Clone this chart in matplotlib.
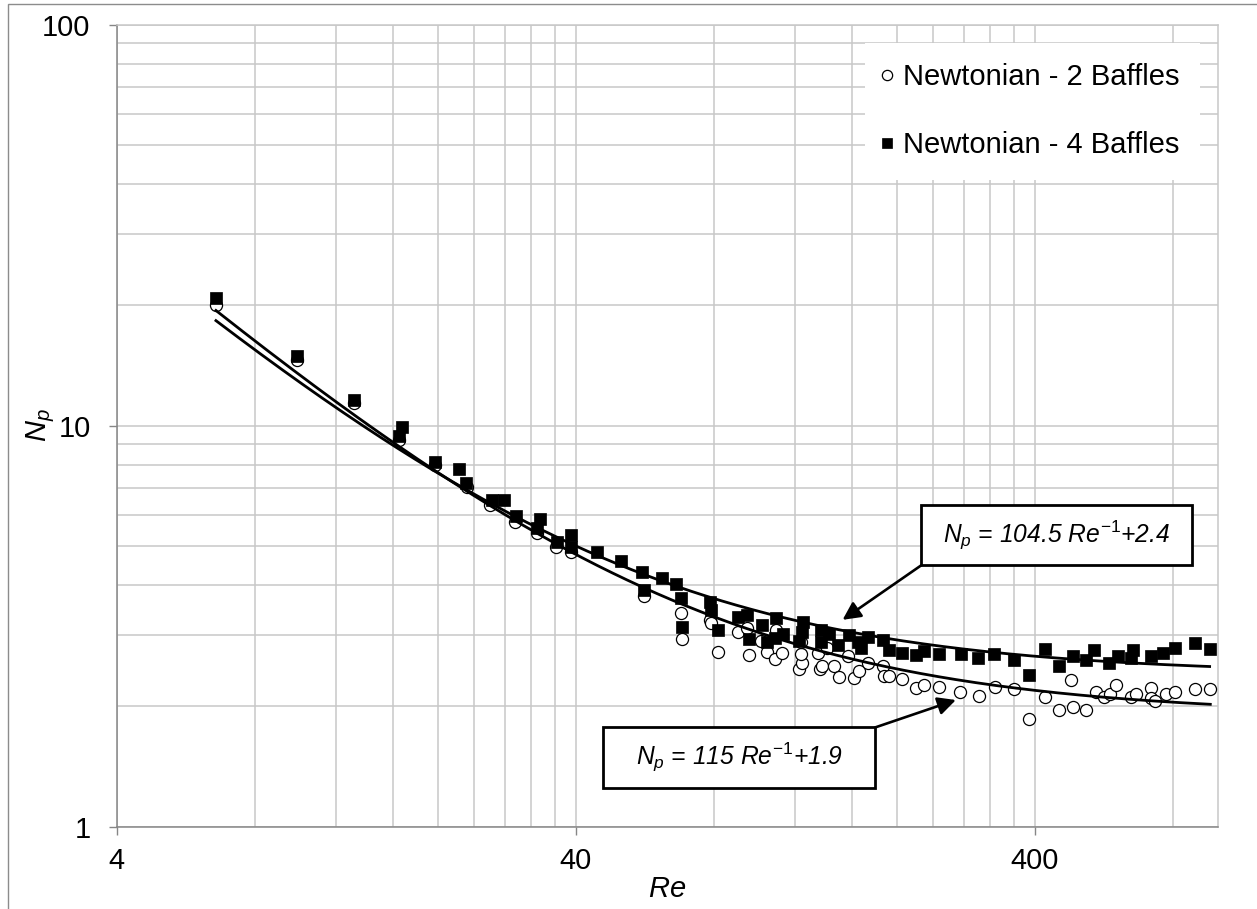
import numpy as np
import matplotlib
matplotlib.use('Agg')
import matplotlib.pyplot as plt
from matplotlib.patches import Rectangle
from matplotlib.ticker import FixedLocator, FixedFormatter, NullFormatter

plt.rcParams['font.family'] = ['Liberation Sans', 'DejaVu Sans']
plt.rcParams['mathtext.fontset'] = 'custom'
plt.rcParams['mathtext.it'] = 'Liberation Sans:italic'
plt.rcParams['mathtext.rm'] = 'Liberation Sans'

# ---------------- data ----------------
re_2baffles = [6.58, 9.88, 13.15, 16.48, 19.78, 23.19, 26.06, 29.55, 32.84, 36.13,
               39.08, 56.28, 67.67, 68.0, 78.27, 78.65, 81.6, 90.2, 94.3, 95.3,
               101.1, 104.2, 108.9, 108.5, 112.7, 122.6, 124.6, 124.0, 123.6, 134.4,
               136.3, 137.4, 140.8, 145.7, 149.8, 156.3, 161.6, 165.6, 172.8, 186.3,
               187.2, 192.6, 205.0, 220.2, 229.6, 247.5, 275.2, 302.6, 327.1, 360.7,
               388.9, 421.5, 452.1, 483.6, 479.9, 516.9, 543.8, 566.7, 584.0, 601.6,
               648.7, 662.2, 716.5, 716.5, 729.8, 771.0, 807.9, 890.5, 963.6]
np_2baffles = [20.0, 14.58, 11.37, 9.21, 7.98, 7.02, 6.34, 5.76, 5.41, 4.99,
               4.85, 3.76, 3.41, 2.94, 3.28, 3.23, 2.73, 3.06, 3.13, 2.68,
               2.91, 2.73, 3.09, 2.62, 2.71, 2.48, 2.56, 2.70, 2.89, 2.71,
               2.48, 2.52, 2.79, 2.52, 2.36, 2.67, 2.35, 2.44, 2.56, 2.52,
               2.37, 2.37, 2.34, 2.22, 2.25, 2.23, 2.17, 2.12, 2.23, 2.20,
               1.86, 2.11, 1.95, 1.99, 2.32, 1.95, 2.17, 2.11, 2.14, 2.26,
               2.11, 2.14, 2.22, 2.09, 2.06, 2.14, 2.17, 2.20, 2.20]

re_4baffles = [6.58, 9.88, 13.15, 16.73, 16.48, 19.78, 22.27, 23.07, 26.29, 27.87,
               29.66, 33.39, 32.84, 36.33, 39.08, 39.08, 44.54, 50.23, 55.83, 61.51,
               66.22, 56.28, 67.67, 78.27, 78.65, 68.0, 81.6, 90.2, 94.6, 101.6,
               95.3, 109.4, 104.2, 108.6, 113.3, 125.2, 124.6, 122.6, 136.7, 142.3,
               136.7, 149.1, 157.5, 164.8, 167.1, 172.8, 186.3, 192.6, 205.0, 220.2,
               229.6, 247.5, 276.1, 300.2, 326.3, 360.7, 388.9, 421.5, 452.1, 483.6,
               516.9, 539.0, 581.1, 606.2, 653.8, 648.7, 716.5, 760.0, 805.4, 890.5,
               960.3]
np_4baffles = [20.8, 14.95, 11.59, 9.94, 9.44, 8.13, 7.80, 7.21, 6.53, 6.53,
               5.94, 5.85, 5.55, 5.14, 5.34, 4.99, 4.85, 4.61, 4.32, 4.16,
               4.02, 3.89, 3.71, 3.63, 3.47, 3.14, 3.09, 3.33, 3.37, 3.18,
               2.94, 3.31, 2.88, 2.95, 3.03, 3.24, 3.06, 2.91, 3.09, 3.03,
               2.89, 2.84, 3.01, 2.89, 2.79, 2.98, 2.92, 2.76, 2.71, 2.68,
               2.75, 2.69, 2.69, 2.64, 2.70, 2.60, 2.39, 2.77, 2.52, 2.66,
               2.60, 2.76, 2.56, 2.66, 2.76, 2.63, 2.67, 2.71, 2.79, 2.87,
               2.77]

# fitted correlations Np = a / Re + b
fit_2baffles = (115.0, 1.9)
fit_4baffles = (104.5, 2.4)

labels = ['Newtonian - 2 Baffles', 'Newtonian - 4 Baffles']
eq_labels = [r'$N_p$ = 104.5 $Re^{\mathit{-1}}$+2.4', r'$N_p$ = 115 $Re^{\mathit{-1}}$+1.9']

x_major = [4, 40, 400]
x_major_labels = ['4', '40', '400']
x_minor = [8, 12, 16, 20, 24, 28, 32, 36, 80, 120, 160, 200, 240, 280, 320, 360, 800]
y_major = [1, 10, 100]
y_major_labels = ['1', '10', '100']
y_minor = [2, 3, 4, 5, 6, 7, 8, 9, 20, 30, 40, 50, 60, 70, 80, 90]

# ---------------- figure ----------------
W, H = 1257, 909
fig = plt.figure(figsize=(W / 100, H / 100), dpi=100)

def fx(px):
    return px / W

def fy(py):
    return 1 - py / H

ax_l, ax_r, ax_t, ax_b = 116.7, 1217.7, 24.7, 826.7
ax = fig.add_axes([fx(ax_l), fy(ax_b), (ax_r - ax_l) / W, (ax_b - ax_t) / H])
ax.set_xscale('log')
ax.set_yscale('log')
ax.set_xlim(4, 1000)
ax.set_ylim(1, 100)

grid_c = '#c8c8c8'
axis_c = '#868686'
ax.xaxis.set_major_locator(FixedLocator(x_major))
ax.xaxis.set_major_formatter(FixedFormatter(x_major_labels))
ax.xaxis.set_minor_locator(FixedLocator(x_minor))
ax.xaxis.set_minor_formatter(NullFormatter())
ax.yaxis.set_major_locator(FixedLocator(y_major))
ax.yaxis.set_major_formatter(FixedFormatter(y_major_labels))
ax.yaxis.set_minor_locator(FixedLocator(y_minor))
ax.yaxis.set_minor_formatter(NullFormatter())
ax.grid(True, which='both', color=grid_c, lw=1.1)
ax.set_axisbelow(True)
ax.tick_params(which='major', length=5.8, width=1.0, color=axis_c, labelsize=21)
ax.tick_params(axis='x', which='major', pad=9.0)
ax.tick_params(axis='y', which='major', pad=13)
ax.tick_params(which='minor', length=0)
for s in ['left', 'bottom']:
    ax.spines[s].set_color(axis_c)
    ax.spines[s].set_linewidth(1.1)
for s in ['top', 'right']:
    ax.spines[s].set_color(grid_c)
    ax.spines[s].set_linewidth(1.1)

ms = 8.7
ax.plot(re_2baffles, np_2baffles, ls='none', marker='o', ms=ms, mfc='white',
        mec='black', mew=0.9, label=labels[0], zorder=3)
ax.plot(re_4baffles, np_4baffles, ls='none', marker='s', ms=ms, mfc='black',
        mec='black', mew=0.5, label=labels[1], zorder=4)

for (a, b), re_data in [(fit_2baffles, re_2baffles), (fit_4baffles, re_4baffles)]:
    re_line = np.geomspace(min(re_data), max(re_data), 400)
    ax.plot(re_line, a / re_line + b, color='black', lw=2.0, zorder=5)

leg = ax.legend(loc='upper left', bbox_to_anchor=(fx(865), fy(43)),
                bbox_transform=fig.transFigure, fontsize=21, frameon=True,
                fancybox=False, edgecolor='none', facecolor='white', framealpha=1,
                borderpad=0.7, labelspacing=1.36, handlelength=0.14,
                handletextpad=0.46, borderaxespad=0, markerscale=0.85)
leg.set_zorder(6)

# equation boxes with arrows
boxes = [(921, 505, 1192, 565), (603.3, 726.7, 875, 788.3)]
arrow_from = [(921.7, 565), (875, 727.5)]
arrow_to = [(152.4, 3.28), (269.0, 2.07)]
for (x0, y0, x1, y1), txt, p0, p1 in zip(boxes, eq_labels, arrow_from, arrow_to):
    r = Rectangle((fx(x0), fy(y1)), (x1 - x0) / W, (y1 - y0) / H,
                  transform=fig.transFigure, facecolor='white', edgecolor='black',
                  lw=2.0, zorder=7)
    fig.add_artist(r)
    fig.text(fx((x0 + x1) / 2), fy((y0 + y1) / 2), txt, ha='center', va='center',
             fontsize=17.7, fontstyle='italic', zorder=8)
    ax.annotate('', xy=p1, xycoords='data', xytext=(fx(p0[0]), fy(p0[1])),
                textcoords='figure fraction',
                arrowprops=dict(arrowstyle='-|>', color='black', lw=1.9,
                                mutation_scale=27, shrinkA=0, shrinkB=0),
                zorder=7)

# axis titles
fig.text(fx(667), fy(889), r'$Re$', ha='center', va='center', fontsize=21)
fig.text(fx(41), fy(425), r'$N_p$', ha='center', va='center', fontsize=21,
         rotation=90)

# outer chart border
fig.add_artist(Rectangle((fx(8), fy(915)), (1270 - 8) / W, (915 - 4) / H,
                         transform=fig.transFigure, facecolor='none',
                         edgecolor='#8c8c8c', lw=1.0, zorder=0))

fig.savefig('out.png', dpi=100)
